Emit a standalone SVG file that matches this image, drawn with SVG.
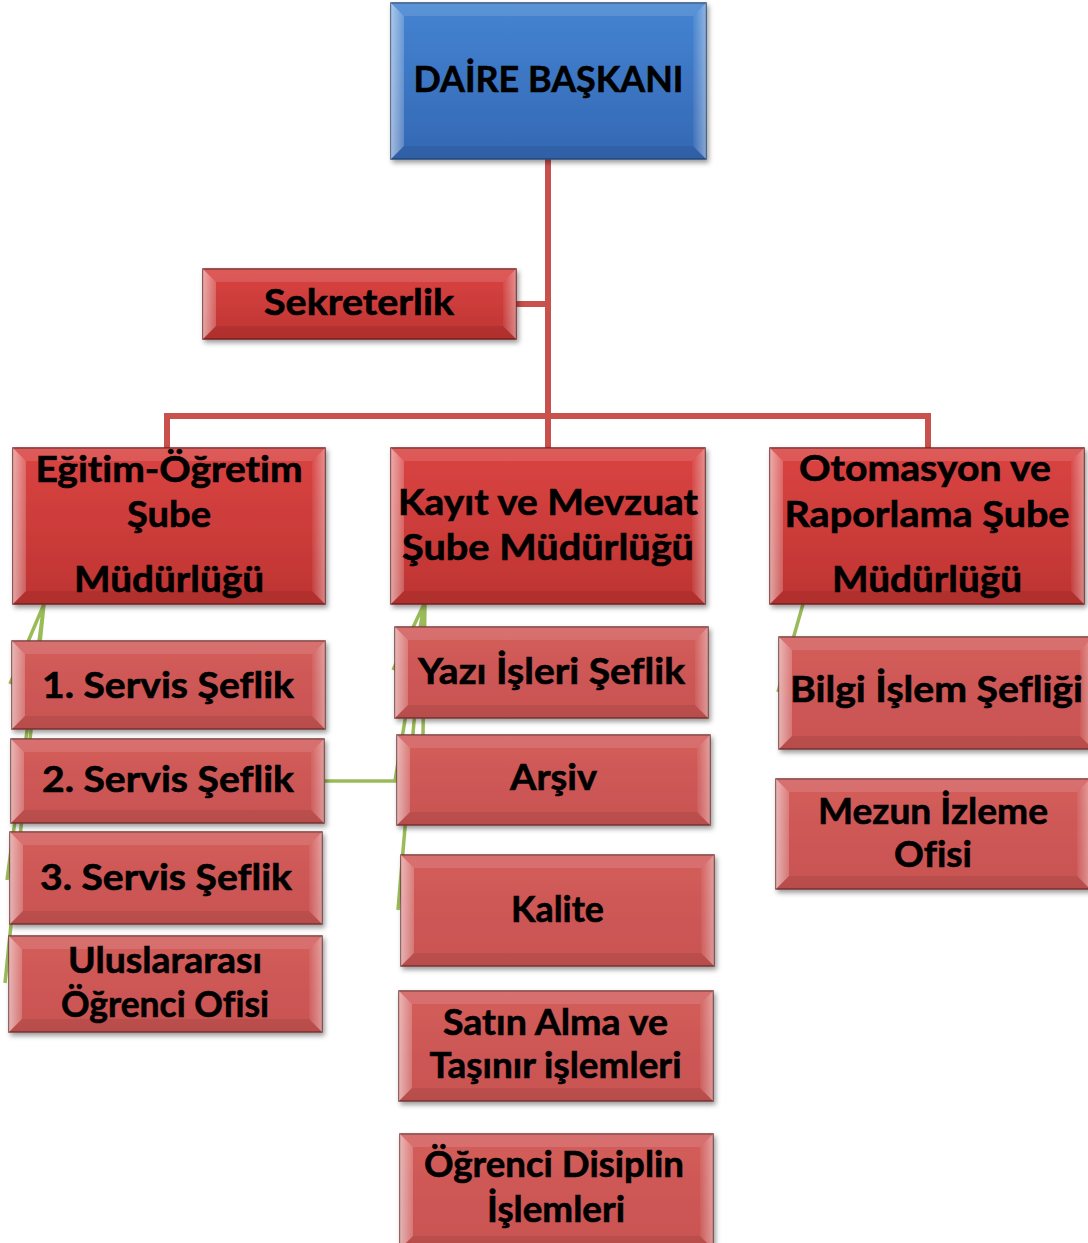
<svg xmlns="http://www.w3.org/2000/svg" width="1088" height="1243" viewBox="0 0 1088 1243">
<defs>
  <linearGradient id="fBlue" x1="0" y1="0" x2="0" y2="1">
    <stop offset="0" stop-color="#4484D2"/><stop offset="1" stop-color="#3468B4"/>
  </linearGradient>
  <linearGradient id="fRed2" x1="0" y1="0" x2="0" y2="1">
    <stop offset="0" stop-color="#DA4442"/><stop offset="1" stop-color="#BE3432"/>
  </linearGradient>
  <linearGradient id="fRed3" x1="0" y1="0" x2="0" y2="1">
    <stop offset="0" stop-color="#D35D5B"/><stop offset="1" stop-color="#C85351"/>
  </linearGradient>
  <linearGradient id="bevL" x1="0" y1="0" x2="1" y2="0">
    <stop offset="0" stop-color="#fff" stop-opacity="0.55"/><stop offset="1" stop-color="#fff" stop-opacity="0.2"/>
  </linearGradient>
  <linearGradient id="bevR" x1="0" y1="0" x2="1" y2="0">
    <stop offset="0" stop-color="#fff" stop-opacity="0.05"/><stop offset="1" stop-color="#fff" stop-opacity="0.4"/>
  </linearGradient>
  <filter id="sh" x="-10%" y="-10%" width="125%" height="130%">
    <feDropShadow dx="2" dy="3" stdDeviation="2.5" flood-color="#000" flood-opacity="0.4"/>
  </filter>
  <style>
    .blue{fill:url(#fBlue);stroke:#2A4C7D;stroke-width:1.5}
    .red2{fill:url(#fRed2);stroke:#7A2422;stroke-width:1.5}
    .red3{fill:url(#fRed3);stroke:#7B3634;stroke-width:1.5}
    .bl{fill:url(#bevL)}
    .bt{fill:#fff;fill-opacity:0.12}
    .br{fill:url(#bevR)}
    .bb{fill:#000;fill-opacity:0.08}
    .node{filter:url(#sh)}
    text{font-family:Lato,"Liberation Sans",sans-serif;font-weight:bold;font-size:37px;fill:#000;stroke:#000;stroke-width:0.6;text-anchor:middle;font-variant-ligatures:none;font-feature-settings:"liga" 0}
    .red{fill:none;stroke:#C8504D;stroke-width:6}
    .green{fill:none;stroke:#9BBB59;stroke-width:3.5}
  </style>
</defs>
<rect width="1088" height="1243" fill="#fff"/>

<g id="connectors">
  <path class="green" d="M44,604 L10,684 M44,604 L7,880 M44,604 L5,983"/>
  <path class="green" d="M424,604 L393,670 M424,604 L395,781 H325 M424,604 L398,910 M425,604 L423,735"/>
  <path class="green" d="M803,604 L778,692"/>
  <path class="red" d="M548,159 V448 M516,304 H548 M167,449 V416 H928 V448"/>
</g>

<g id="daire-baskani" transform="translate(391,3)">
  <g class="node"><rect class="blue" width="315" height="156"/></g>
  <path class="bl" d="M0,0 l13,13 v130 l-13,13z"/>
  <path class="bt" d="M0,0 h315 l-13,13 h-289z"/>
  <path class="br" d="M315,0 v156 l-13,-13 v-130z"/>
  <path class="bb" d="M0,156 h315 l-13,-13 h-289z"/>
  <text x="157.5" y="89" textLength="270" lengthAdjust="spacingAndGlyphs">DAİRE BAŞKANI</text>
</g>

<g id="sekreterlik" transform="translate(203,269)">
  <g class="node"><rect class="red2" width="313" height="70"/></g>
  <path class="bl" d="M0,0 l13,13 v44 l-13,13z"/>
  <path class="bt" d="M0,0 h313 l-13,13 h-287z"/>
  <path class="br" d="M313,0 v70 l-13,-13 v-44z"/>
  <path class="bb" d="M0,70 h313 l-13,-13 h-287z"/>
  <text x="156" y="46" textLength="190" lengthAdjust="spacingAndGlyphs">Sekreterlik</text>
</g>

<g id="egitim-ogretim" transform="translate(13,448)">
  <g class="node"><rect class="red2" width="312" height="156"/></g>
  <path class="bl" d="M0,0 l13,13 v130 l-13,13z"/>
  <path class="bt" d="M0,0 h312 l-13,13 h-286z"/>
  <path class="br" d="M312,0 v156 l-13,-13 v-130z"/>
  <path class="bb" d="M0,156 h312 l-13,-13 h-286z"/>
  <text x="156" y="34" textLength="267" lengthAdjust="spacingAndGlyphs">Eğitim-Öğretim</text>
  <text x="156" y="79" textLength="84" lengthAdjust="spacingAndGlyphs">Şube</text>
  <text x="156" y="144" textLength="190" lengthAdjust="spacingAndGlyphs">Müdürlüğü</text>
</g>

<g id="kayit-mevzuat" transform="translate(391,448)">
  <g class="node"><rect class="red2" width="314" height="156"/></g>
  <path class="bl" d="M0,0 l13,13 v130 l-13,13z"/>
  <path class="bt" d="M0,0 h314 l-13,13 h-288z"/>
  <path class="br" d="M314,0 v156 l-13,-13 v-130z"/>
  <path class="bb" d="M0,156 h314 l-13,-13 h-288z"/>
  <text x="157" y="67" textLength="300" lengthAdjust="spacingAndGlyphs">Kayıt ve Mevzuat</text>
  <text x="157" y="112" textLength="292" lengthAdjust="spacingAndGlyphs">Şube Müdürlüğü</text>
</g>

<g id="otomasyon-raporlama" transform="translate(770,448)">
  <g class="node"><rect class="red2" width="314" height="156"/></g>
  <path class="bl" d="M0,0 l13,13 v130 l-13,13z"/>
  <path class="bt" d="M0,0 h314 l-13,13 h-288z"/>
  <path class="br" d="M314,0 v156 l-13,-13 v-130z"/>
  <path class="bb" d="M0,156 h314 l-13,-13 h-288z"/>
  <text x="155" y="33" textLength="252" lengthAdjust="spacingAndGlyphs">Otomasyon ve</text>
  <text x="157" y="79" textLength="285" lengthAdjust="spacingAndGlyphs">Raporlama Şube</text>
  <text x="157" y="144" textLength="190" lengthAdjust="spacingAndGlyphs">Müdürlüğü</text>
</g>

<g id="servis-1" transform="translate(12,641)">
  <g class="node"><rect class="red3" width="313" height="88"/></g>
  <path class="bl" d="M0,0 l13,13 v62 l-13,13z"/>
  <path class="bt" d="M0,0 h313 l-13,13 h-287z"/>
  <path class="br" d="M313,0 v88 l-13,-13 v-62z"/>
  <path class="bb" d="M0,88 h313 l-13,-13 h-287z"/>
  <text x="156" y="57" textLength="252" lengthAdjust="spacingAndGlyphs">1. Servis Şeflik</text>
</g>

<g id="servis-2" transform="translate(11,739)">
  <g class="node"><rect class="red3" width="313" height="84"/></g>
  <path class="bl" d="M0,0 l13,13 v58 l-13,13z"/>
  <path class="bt" d="M0,0 h313 l-13,13 h-287z"/>
  <path class="br" d="M313,0 v84 l-13,-13 v-58z"/>
  <path class="bb" d="M0,84 h313 l-13,-13 h-287z"/>
  <text x="157" y="53" textLength="252" lengthAdjust="spacingAndGlyphs">2. Servis Şeflik</text>
</g>

<g id="servis-3" transform="translate(10,832)">
  <g class="node"><rect class="red3" width="312" height="92"/></g>
  <path class="bl" d="M0,0 l13,13 v66 l-13,13z"/>
  <path class="bt" d="M0,0 h312 l-13,13 h-286z"/>
  <path class="br" d="M312,0 v92 l-13,-13 v-66z"/>
  <path class="bb" d="M0,92 h312 l-13,-13 h-286z"/>
  <text x="156" y="58" textLength="252" lengthAdjust="spacingAndGlyphs">3. Servis Şeflik</text>
</g>

<g id="uluslararasi" transform="translate(9,936)">
  <g class="node"><rect class="red3" width="313" height="96"/></g>
  <path class="bl" d="M0,0 l13,13 v70 l-13,13z"/>
  <path class="bt" d="M0,0 h313 l-13,13 h-287z"/>
  <path class="br" d="M313,0 v96 l-13,-13 v-70z"/>
  <path class="bb" d="M0,96 h313 l-13,-13 h-287z"/>
  <text x="156" y="37" textLength="194" lengthAdjust="spacingAndGlyphs">Uluslararası</text>
  <text x="156" y="81" textLength="208" lengthAdjust="spacingAndGlyphs">Öğrenci Ofisi</text>
</g>

<g id="yazi-isleri" transform="translate(395,627)">
  <g class="node"><rect class="red3" width="313" height="91"/></g>
  <path class="bl" d="M0,0 l13,13 v65 l-13,13z"/>
  <path class="bt" d="M0,0 h313 l-13,13 h-287z"/>
  <path class="br" d="M313,0 v91 l-13,-13 v-65z"/>
  <path class="bb" d="M0,91 h313 l-13,-13 h-287z"/>
  <text x="156.5" y="57" textLength="267" lengthAdjust="spacingAndGlyphs">Yazı İşleri Şeflik</text>
</g>

<g id="arsiv" transform="translate(397,735)">
  <g class="node"><rect class="red3" width="313" height="90"/></g>
  <path class="bl" d="M0,0 l13,13 v64 l-13,13z"/>
  <path class="bt" d="M0,0 h313 l-13,13 h-287z"/>
  <path class="br" d="M313,0 v90 l-13,-13 v-64z"/>
  <path class="bb" d="M0,90 h313 l-13,-13 h-287z"/>
  <text x="156.5" y="55" textLength="87" lengthAdjust="spacingAndGlyphs">Arşiv</text>
</g>

<g id="kalite" transform="translate(401,855)">
  <g class="node"><rect class="red3" width="313" height="111"/></g>
  <path class="bl" d="M0,0 l13,13 v85 l-13,13z"/>
  <path class="bt" d="M0,0 h313 l-13,13 h-287z"/>
  <path class="br" d="M313,0 v111 l-13,-13 v-85z"/>
  <path class="bb" d="M0,111 h313 l-13,-13 h-287z"/>
  <text x="156.5" y="67" textLength="93" lengthAdjust="spacingAndGlyphs">Kalite</text>
</g>

<g id="satin-alma" transform="translate(399,991)">
  <g class="node"><rect class="red3" width="314" height="110"/></g>
  <path class="bl" d="M0,0 l13,13 v84 l-13,13z"/>
  <path class="bt" d="M0,0 h314 l-13,13 h-288z"/>
  <path class="br" d="M314,0 v110 l-13,-13 v-84z"/>
  <path class="bb" d="M0,110 h314 l-13,-13 h-288z"/>
  <text x="156.5" y="44" textLength="225" lengthAdjust="spacingAndGlyphs">Satın Alma ve</text>
  <text x="156.5" y="87" textLength="252" lengthAdjust="spacingAndGlyphs">Taşınır işlemleri</text>
</g>

<g id="ogrenci-disiplin" transform="translate(400,1134)">
  <g class="node"><rect class="red3" width="313" height="115"/></g>
  <path class="bl" d="M0,0 l13,13 v89 l-13,13z"/>
  <path class="bt" d="M0,0 h313 l-13,13 h-287z"/>
  <path class="br" d="M313,0 v115 l-13,-13 v-89z"/>
  <path class="bb" d="M0,115 h313 l-13,-13 h-287z"/>
  <text x="154" y="43" textLength="260" lengthAdjust="spacingAndGlyphs">Öğrenci Disiplin</text>
  <text x="156" y="88" textLength="138" lengthAdjust="spacingAndGlyphs">İşlemleri</text>
</g>

<g id="bilgi-islem" transform="translate(779,637)">
  <g class="node"><rect class="red3" width="314" height="112"/></g>
  <path class="bl" d="M0,0 l13,13 v86 l-13,13z"/>
  <path class="bt" d="M0,0 h314 l-13,13 h-288z"/>
  <path class="br" d="M314,0 v112 l-13,-13 v-86z"/>
  <path class="bb" d="M0,112 h314 l-13,-13 h-288z"/>
  <text x="157.5" y="65" textLength="293" lengthAdjust="spacingAndGlyphs">Bilgi İşlem Şefliği</text>
</g>

<g id="mezun-izleme" transform="translate(776,779)">
  <g class="node"><rect class="red3" width="314" height="110"/></g>
  <path class="bl" d="M0,0 l13,13 v84 l-13,13z"/>
  <path class="bt" d="M0,0 h314 l-13,13 h-288z"/>
  <path class="br" d="M314,0 v110 l-13,-13 v-84z"/>
  <path class="bb" d="M0,110 h314 l-13,-13 h-288z"/>
  <text x="157" y="45" textLength="230" lengthAdjust="spacingAndGlyphs">Mezun İzleme</text>
  <text x="157" y="88">Ofisi</text>
</g>
</svg>
